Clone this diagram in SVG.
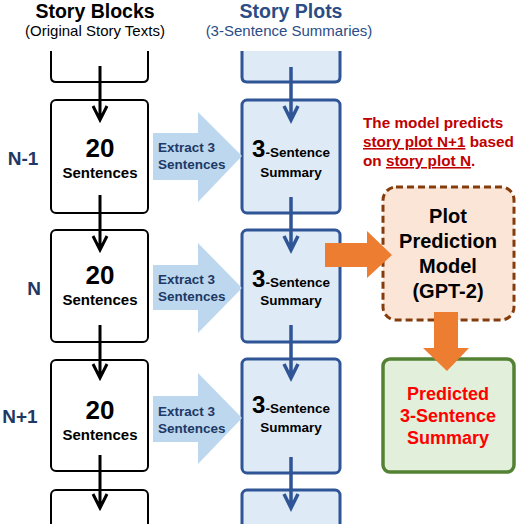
<svg xmlns="http://www.w3.org/2000/svg" width="516" height="524" viewBox="0 0 516 524">
<style>
text{font-family:"Liberation Sans",Arial,sans-serif;font-weight:bold;}
.blk{fill:#fff;stroke:#000;stroke-width:2;}
.plt{fill:#DEEBF7;stroke:#2F5597;stroke-width:3;}
.big{font-size:26px;fill:#000;text-anchor:middle;}
.sen{font-size:15px;fill:#000;text-anchor:middle;}
.ext{fill:#BDD7EE;}
.extt{font-size:13.5px;fill:#203864;}
.sum{font-size:13.5px;fill:#000;text-anchor:middle;}
.row{font-size:19px;fill:#1F3864;text-anchor:middle;}
.ka{stroke:#000;stroke-width:3;fill:none;}
.ba{stroke:#2F5597;stroke-width:3.5;fill:none;}
.mt{font-size:20px;fill:#000;text-anchor:middle;}
.pt{font-size:18px;fill:#FF0000;text-anchor:middle;}
.red{font-size:15.3px;fill:#C00000;}
</style>
<rect width="516" height="524" fill="#fff"/>
<g id="headers">
<text x="95" y="18" style="font-size:19.5px;fill:#000" text-anchor="middle">Story Blocks</text>
<text x="95" y="36" style="font-size:15px;font-weight:normal;fill:#000" text-anchor="middle">(Original Story Texts)</text>
<text x="291" y="18" style="font-size:19.5px;fill:#2B4C85" text-anchor="middle">Story Plots</text>
<text x="289" y="36" style="font-size:15px;font-weight:normal;fill:#2B4C85" text-anchor="middle">(3-Sentence Summaries)</text>
</g>
<g id="row-labels">
<text class="row" x="23" y="165">N-1</text>
<text class="row" x="34" y="295">N</text>
<text class="row" x="20" y="423">N+1</text>
</g>
<g id="block-top"><path class="blk" d="M51,51 V77 Q51,82 56,82 H143 Q148,82 148,77 V51"/></g>
<g id="block-n-1">
<rect class="blk" x="51" y="100" width="97" height="113" rx="5"/>
<text class="big" x="100" y="157">20</text>
<text class="sen" x="100" y="178">Sentences</text>
</g>
<g id="block-n">
<rect class="blk" x="51" y="230" width="97" height="112" rx="5"/>
<text class="big" x="100" y="284">20</text>
<text class="sen" x="100" y="305">Sentences</text>
</g>
<g id="block-n1">
<rect class="blk" x="51" y="360" width="97" height="111" rx="5"/>
<text class="big" x="100" y="419">20</text>
<text class="sen" x="100" y="440">Sentences</text>
</g>
<g id="block-bottom"><rect class="blk" x="51" y="490" width="97" height="60" rx="5"/></g>
<g id="plot-top"><path class="plt" d="M242,51 V77 Q242,82 247,82 H335 Q340,82 340,77 V51"/></g>
<g id="plot-n-1">
<rect class="plt" x="242" y="100" width="98" height="113" rx="5"/>
<text class="sum" x="291" y="157"><tspan style="font-size:24px">3</tspan>-Sentence</text>
<text class="sum" x="291" y="177">Summary</text>
</g>
<g id="plot-n">
<rect class="plt" x="242" y="230" width="98" height="112" rx="5"/>
<text class="sum" x="291" y="287"><tspan style="font-size:24px">3</tspan>-Sentence</text>
<text class="sum" x="291" y="305">Summary</text>
</g>
<g id="plot-n1">
<rect class="plt" x="242" y="359" width="98" height="114" rx="5"/>
<text class="sum" x="291" y="413"><tspan style="font-size:24px">3</tspan>-Sentence</text>
<text class="sum" x="291" y="432">Summary</text>
</g>
<g id="plot-bottom"><rect class="plt" x="242" y="490" width="98" height="60" rx="5"/></g>
<g id="model">
<rect x="383" y="187" width="131" height="133" rx="13" fill="#FBE5D6" stroke="#843C0C" stroke-width="3" stroke-dasharray="7,4"/>
<text class="mt" x="448" y="223">Plot</text>
<text class="mt" x="448" y="248">Prediction</text>
<text class="mt" x="448" y="273">Model</text>
<text class="mt" x="448" y="298">(GPT-2)</text>
</g>
<g id="predicted">
<rect x="383" y="359" width="131" height="113" rx="7" fill="#E2EFDA" stroke="#548235" stroke-width="3.5"/>
<text class="pt" x="448" y="400">Predicted</text>
<text class="pt" x="448" y="422">3-Sentence</text>
<text class="pt" x="448" y="444">Summary</text>
</g>
<g id="note">
<text class="red" x="363" y="128">The model predicts</text>
<text class="red" x="363" y="147"><tspan text-decoration="underline">story plot N+1</tspan> based</text>
<text class="red" x="363" y="166">on <tspan text-decoration="underline">story plot N</tspan>.</text>
</g>
<g id="connectors">
<path class="ext" d="M153,133 H198 V112 L242,156 L198,202 V180 H153 Z"/>
<path class="ext" d="M153,265 H198 V243 L242,288 L198,333 V310 H153 Z"/>
<path class="ext" d="M153,396 H198 V373 L242,418 L198,464 V442 H153 Z"/>
<text class="extt" x="158" y="152">Extract 3</text>
<text class="extt" x="158" y="169">Sentences</text>
<text class="extt" x="158" y="284">Extract 3</text>
<text class="extt" x="158" y="301">Sentences</text>
<text class="extt" x="158" y="416">Extract 3</text>
<text class="extt" x="158" y="433">Sentences</text>
<path class="ka" d="M100,66 V119 M93,106 L100,120 L107,106"/>
<path class="ka" d="M100,195 V249 M93,236 L100,250 L107,236"/>
<path class="ka" d="M100,325 V377 M93,364 L100,378 L107,364"/>
<path class="ka" d="M100,455 V507 M93,494 L100,508 L107,494"/>
<path class="ba" d="M291,67 V119 M284,106 L291,120 L298,106"/>
<path class="ba" d="M291,197 V249 M284,236 L291,250 L298,236"/>
<path class="ba" d="M291,325 V377 M284,364 L291,378 L298,364"/>
<path class="ba" d="M291,457 V507 M284,494 L291,508 L298,494"/>
<path fill="#ED7D31" d="M325,243 H367 V231 L392,255 L367,278 V267 H325 Z"/>
<path fill="#ED7D31" d="M434,312 H458 V348 H469 L447,371 L423,348 H434 Z"/>
</g>
</svg>
